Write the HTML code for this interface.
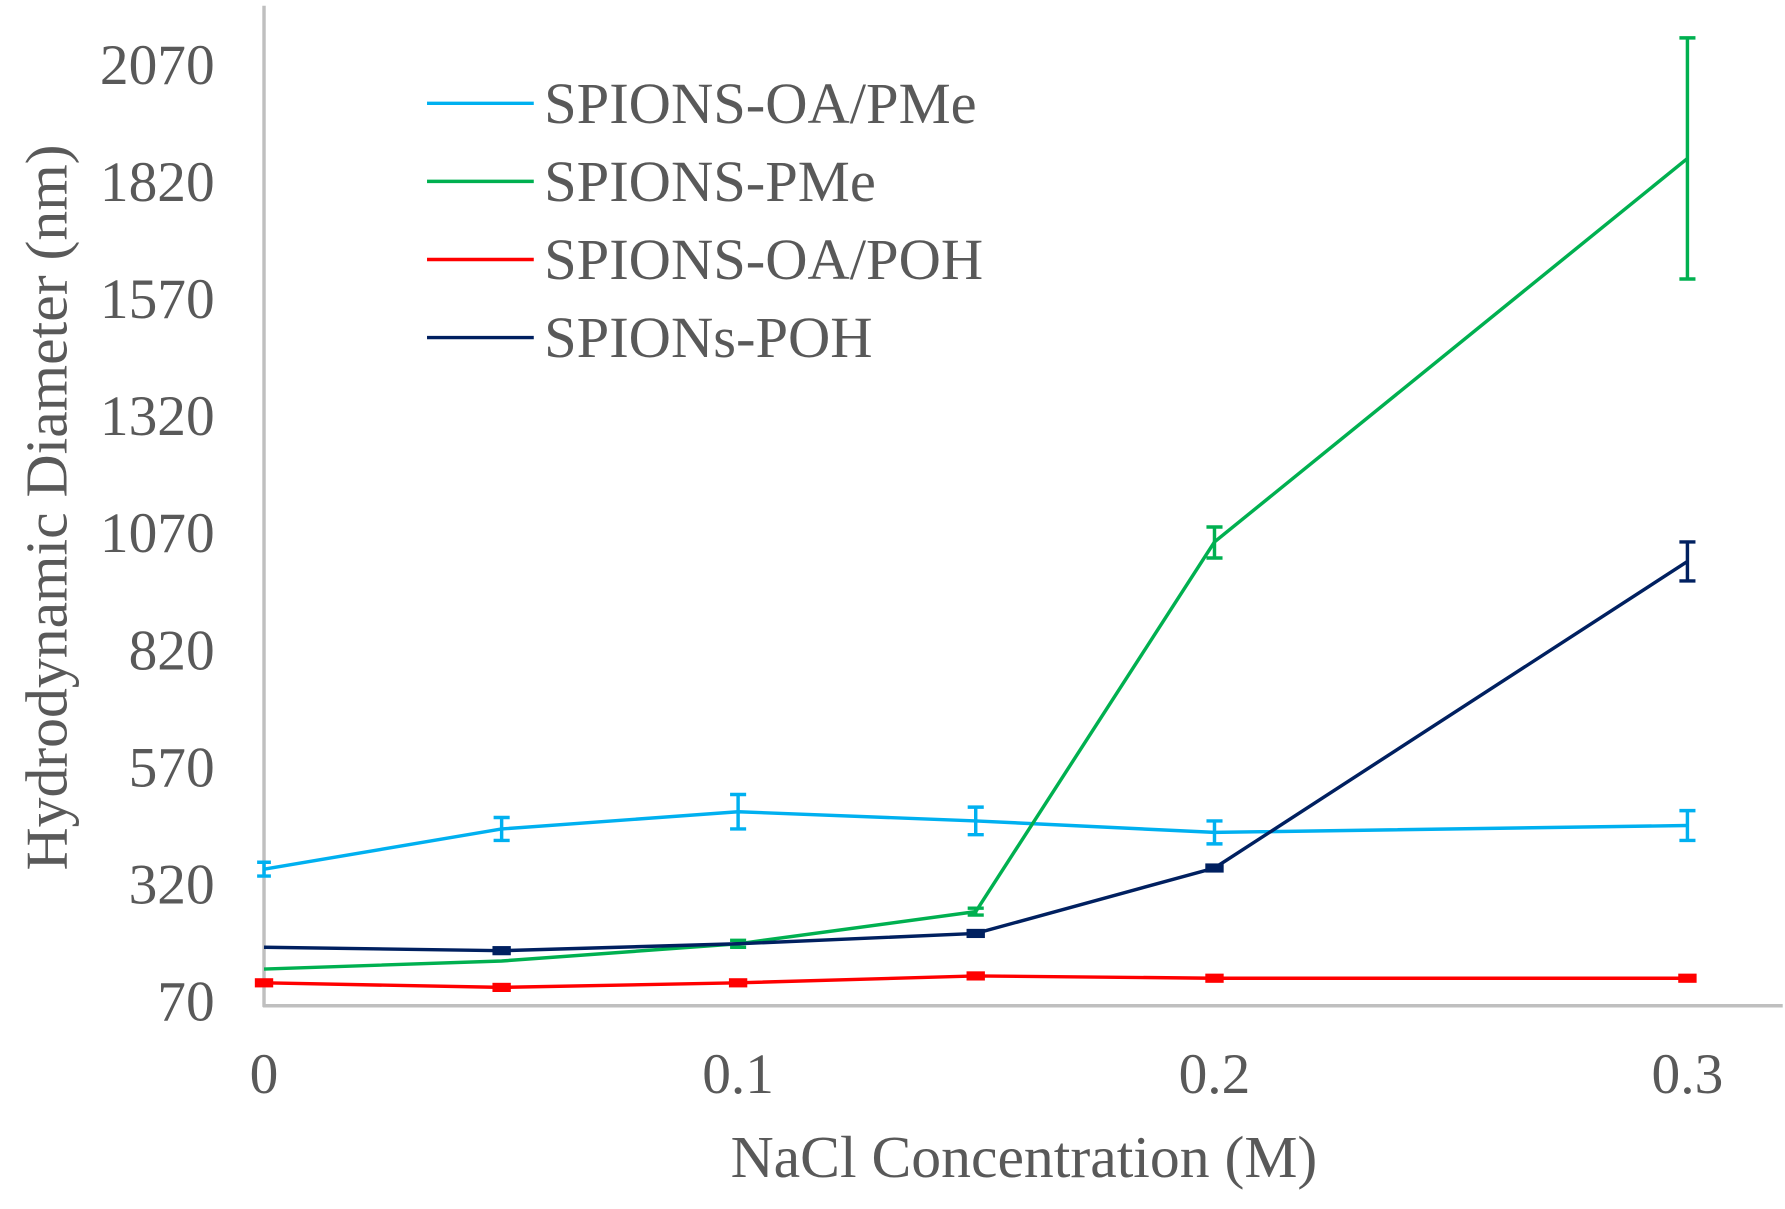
<!DOCTYPE html>
<html><head><meta charset="utf-8"><style>
html,body{margin:0;padding:0;background:#fff;}
svg{display:block;}
text{font-family:"Liberation Serif",serif;fill:#595959;}
</style></head><body>
<svg width="1785" height="1209" viewBox="0 0 1555 1053" preserveAspectRatio="none">
<line x1="230" y1="5" x2="230" y2="877" stroke="#bfbfbf" stroke-width="3"/>
<line x1="229" y1="876" x2="1553" y2="876" stroke="#bfbfbf" stroke-width="3"/>
<g font-size="50" text-anchor="end">
<text x="187" y="889">70</text><text x="187" y="787">320</text><text x="187" y="685">570</text>
<text x="187" y="583">820</text><text x="187" y="481">1070</text><text x="187" y="379">1320</text>
<text x="187" y="277">1570</text><text x="187" y="175">1820</text><text x="187" y="73">2070</text>
</g>
<g font-size="50" text-anchor="middle">
<text x="230" y="952">0</text><text x="643" y="952">0.1</text><text x="1058" y="952">0.2</text><text x="1470" y="952">0.3</text>
<text x="892" y="1025" font-size="52">NaCl Concentration (M)</text>
</g>
<text transform="translate(58,442) rotate(-90)" font-size="52" text-anchor="middle">Hydrodynamic Diameter (nm)</text>
<g font-size="51">
<line x1="372" y1="90" x2="465" y2="90" stroke="#00b0f0" stroke-width="3"/><text x="474" y="107">SPIONS-OA/PMe</text>
<line x1="372" y1="158" x2="465" y2="158" stroke="#00b050" stroke-width="3"/><text x="474" y="175">SPIONS-PMe</text>
<line x1="372" y1="226" x2="465" y2="226" stroke="#ff0000" stroke-width="3"/><text x="474" y="243">SPIONS-OA/POH</text>
<line x1="372" y1="294" x2="465" y2="294" stroke="#002060" stroke-width="3"/><text x="474" y="311">SPIONs-POH</text>
</g>
<g fill="none" stroke-width="3">
<polyline stroke="#00b0f0" points="230,757 437,722 643,707 850,715 1058,725 1470,719"/>
<path stroke="#00b0f0" d="M230,751V763M224,751H236M224,763H236 M437,712V732M430,712H444M430,732H444 M643,692V722M636,692H650M636,722H650 M850,703V727M843,703H857M843,727H857 M1058,715V735M1051,715H1065M1051,735H1065 M1470,706V732M1463,706H1477M1463,732H1477"/>
<polyline stroke="#00b050" points="230,844 437,837 643,822 850,794 1058,472 1470,138"/>
<path stroke="#00b050" d="M1058,459V486M1051,459H1065M1051,486H1065 M1470,33V243M1463,33H1477M1463,243H1477 M850,791V797M843,791H857M843,797H857 M643,819V825M636,819H650M636,825H650"/>
<polyline stroke="#ff0000" points="230,856 437,860 643,856 850,850 1058,852 1470,852"/>
<polyline stroke="#002060" points="230,825 437,828 643,822 850,813 1058,756 1470,489"/>
<path stroke="#002060" d="M1470,472V506M1463,472H1477M1463,506H1477"/>
</g>
<g fill="#ff0000">
<rect x="222" y="852" width="16" height="8"/><rect x="429" y="856" width="16" height="8"/><rect x="635" y="852" width="16" height="8"/><rect x="842" y="846" width="16" height="8"/><rect x="1050" y="848" width="16" height="8"/><rect x="1462" y="848" width="16" height="8"/>
</g>
<g fill="#002060">
<rect x="1050" y="752" width="16" height="8"/><rect x="842" y="809" width="16" height="8"/><rect x="429" y="824" width="16" height="8"/>
</g>
</svg>
</body></html>
